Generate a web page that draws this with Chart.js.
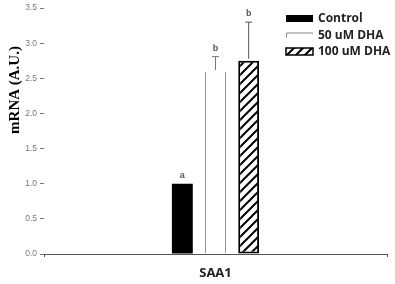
<!DOCTYPE html>
<html>
<head>
<meta charset="utf-8">
<script src="https://cdn.jsdelivr.net/npm/chart.js@4"></script>
<style>
  body { margin: 0; background: #fff; }
  #wrap { width: 395px; height: 284px; }
</style>
</head>
<body>
<div id="wrap"><canvas id="bar-chart"></canvas></div>
<script>
const categories = ["SAA1"];
const series_names = ["Control", "50 uM DHA", "100 uM DHA"];
const control_values = [1.0];
const dha50_values = [2.59];
const dha100_values = [2.75];
const error_values = [[0], [0.22], [0.55]];
const sig_letters = [["a"], ["b"], ["b"]];
const y_ticks = [0, 0.5, 1.0, 1.5, 2.0, 2.5, 3.0, 3.5];

// diagonal hatch for the 100 uM bar
function makeHatch() {
  const c = document.createElement("canvas");
  c.width = 9;
  c.height = 9;
  const p = c.getContext("2d");
  p.fillStyle = "#fff";
  p.fillRect(0, 0, 9, 9);
  p.strokeStyle = "#000";
  p.lineWidth = 2;
  p.beginPath();
  p.moveTo(-1, 10);
  p.lineTo(10, -1);
  p.moveTo(-2, 2);
  p.lineTo(2, -2);
  p.moveTo(7, 11);
  p.lineTo(11, 7);
  p.stroke();
  return p.createPattern(c, "repeat");
}

const ctx = document.getElementById("bar-chart").getContext("2d");
const hatch = makeHatch();

const errorBars = {
  id: "errorBars",
  afterDatasetsDraw(chart) {
    const c = chart.ctx;
    const y = chart.scales.y;
    chart.data.datasets.forEach((ds, i) => {
      const meta = chart.getDatasetMeta(i);
      meta.data.forEach((bar, j) => {
        const v = ds.data[j];
        const e = error_values[i][j];
        const top = y.getPixelForValue(v + e);
        if (e > 0) {
          c.save();
          c.strokeStyle = i === 1 ? "#777" : "#555";
          c.lineWidth = 1;
          c.beginPath();
          c.moveTo(bar.x, y.getPixelForValue(v) - 2);
          c.lineTo(bar.x, top);
          c.moveTo(bar.x - 3.5, top);
          c.lineTo(bar.x + 3.5, top);
          c.stroke();
          c.restore();
        }
        c.save();
        c.fillStyle = "#555";
        c.font = "bold 9px 'Liberation Sans'";
        c.textAlign = "center";
        c.textBaseline = "bottom";
        c.fillText(sig_letters[i][j], bar.x, top - 4);
        c.restore();
      });
    });
  },
};

const sideLabels = {
  id: "sideLabels",
  afterDraw(chart) {
    const c = chart.ctx;
    // y axis title
    c.save();
    c.translate(15, 90);
    c.rotate(-Math.PI / 2);
    c.fillStyle = "#000";
    c.font = "bold 15px 'Liberation Serif'";
    c.textAlign = "center";
    c.textBaseline = "middle";
    c.fillText("mRNA (A.U.)", 0, 0);
    c.restore();

    // legend
    const lx = 286, ly = 15;
    chart.data.datasets.forEach((ds, i) => {
      const yy = ly + i * 16.5;
      c.save();
      if (i === 0) {
        c.fillStyle = "#000";
        c.fillRect(lx, yy, 27, 7);
      } else if (i === 1) {
        c.strokeStyle = "#888";
        c.lineWidth = 1;
        c.beginPath();
        c.moveTo(lx + 0.5, yy + 6);
        c.lineTo(lx + 0.5, yy + 1.5);
        c.lineTo(lx + 27, yy + 1.5);
        c.stroke();
      } else {
        c.fillStyle = hatch;
        c.fillRect(lx, yy, 27, 7);
        c.strokeStyle = "#000";
        c.lineWidth = 1.5;
        c.strokeRect(lx, yy, 27, 7);
      }
      c.fillStyle = "#222";
      c.font = "bold 12px 'Open Sans'";
      c.textBaseline = "middle";
      c.fillText(ds.label, lx + 32, yy + 4);
      c.restore();
    });
  },
};

const bar_data = {
  labels: categories,
  datasets: [
    {
      label: series_names[0],
      data: control_values,
      backgroundColor: "#000",
      borderColor: "#000",
      borderWidth: 0,
    },
    {
      label: series_names[1],
      data: dha50_values,
      backgroundColor: "#fff",
      borderColor: "#888",
      borderWidth: { left: 1, right: 1, top: 0, bottom: 0 },
      borderSkipped: false,
    },
    {
      label: series_names[2],
      data: dha100_values,
      backgroundColor: hatch,
      borderColor: "#000",
      borderWidth: 2,
      borderSkipped: false,
    },
  ],
};

const bar_config = {
  type: "bar",
  data: bar_data,
  plugins: [errorBars, sideLabels],
  options: {
    responsive: true,
    maintainAspectRatio: false,
    animation: false,
    layout: {
      padding: { top: 7, right: 8, left: 0, bottom: 0 },
    },
    datasets: {
      bar: {
        categoryPercentage: 0.29,
        barPercentage: 0.63,
      },
    },
    plugins: {
      legend: { display: false },
      tooltip: { enabled: false },
    },
    scales: {
      x: {
        grid: { drawOnChartArea: false, tickLength: 3, color: "#555" },
        border: { display: true, color: "#555", width: 1 },
        ticks: {
          color: "#222",
          padding: 8,
          font: { family: "'Open Sans'", size: 13, weight: "bold" },
        },
        afterFit(scale) {
          scale.height = 30;
        },
      },
      y: {
        min: 0,
        max: 3.5,
        afterBuildTicks(scale) {
          scale.ticks = y_ticks.map((v) => ({ value: v }));
        },
        grid: { drawOnChartArea: false, tickLength: 4, color: "#777" },
        border: { display: false },
        ticks: {
          color: "#777",
          padding: 3,
          font: { family: "'Liberation Sans'", size: 8.5 },
          callback: (v) => Number(v).toFixed(1),
        },
        afterFit(scale) {
          scale.width = 44;
        },
      },
    },
  },
};

const barChart = new Chart(ctx, bar_config);
</script>
</body>
</html>
